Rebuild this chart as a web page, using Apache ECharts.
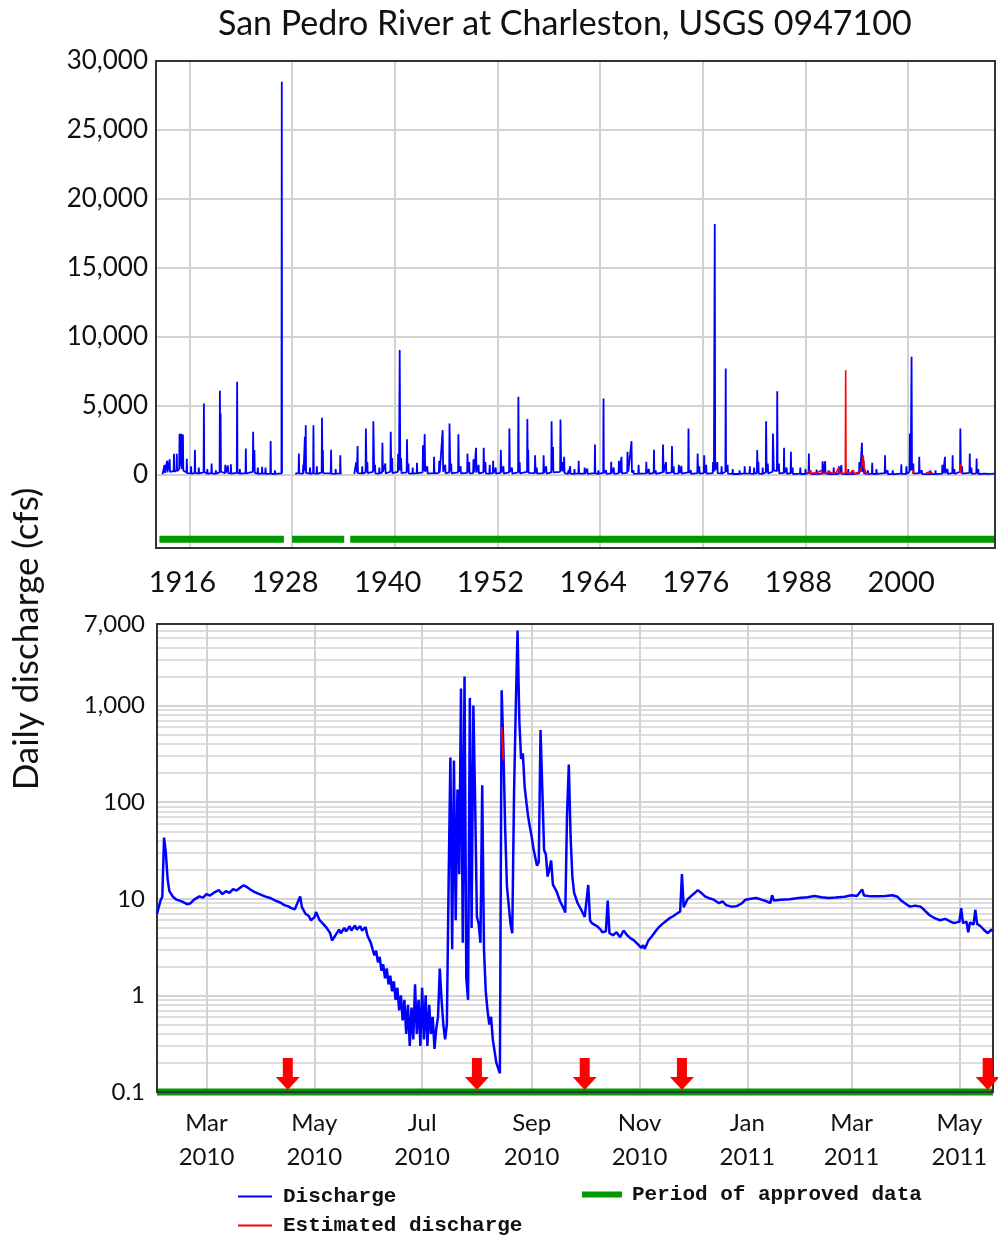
<!DOCTYPE html>
<html>
<head>
<meta charset="utf-8">
<title>San Pedro River at Charleston, USGS 0947100</title>
<script src="https://cdn.jsdelivr.net/npm/echarts@6.0.0/dist/echarts.min.js"></script>
<style>
  html, body { margin: 0; padding: 0; background: #fff; }
  #chart { width: 998px; height: 1239px; }
</style>
</head>
<body>
<div id="chart"></div>
<script>
// ---- top panel: full record (decimal year, daily discharge cfs) ----
const topYearTicks = [1916, 1928, 1940, 1952, 1964, 1976, 1988, 2000];
const topFlowTicks = [0, 5000, 10000, 15000, 20000, 25000, 30000];

const topDischarge = [
  [1912.86, 20], [1913.06, 150], [1913.1, 700], [1913.14, 120],
  [1913.36, 200], [1913.4, 1000], [1913.44, 150], [1913.66, 180], [1913.7, 1100], [1913.74, 200],
  [1914.16, 250], [1914.2, 1500], [1914.24, 200], [1914.49, 300], [1914.53, 1500], [1914.57, 250],
  [1914.81, 400], [1914.85, 2950], [1914.89, 600], [1915.01, 500], [1915.05, 2950], [1915.09, 400],
  [1915.21, 500], [1915.25, 2900], [1915.29, 300], [1915.66, 150], [1915.7, 1150], [1915.74, 100],
  [1916.16, 80], [1916.2, 600], [1916.24, 60], [1916.61, 100], [1916.65, 1770], [1916.69, 120],
  [1917.06, 60], [1917.1, 500], [1917.14, 80], [1917.66, 150], [1917.7, 5150], [1917.74, 200],
  [1918.06, 60], [1918.1, 400], [1918.14, 50], [1918.56, 100], [1918.6, 800], [1918.64, 90],
  [1919.06, 40], [1919.1, 300], [1919.14, 60], [1919.53, 150], [1919.57, 6070], [1919.61, 800],
  [1919.65, 4430], [1919.69, 200], [1920.16, 100], [1920.2, 700], [1920.24, 120],
  [1920.46, 90], [1920.5, 650], [1920.54, 100], [1920.81, 80], [1920.85, 750], [1920.89, 60],
  [1921.54, 120], [1921.58, 6730], [1921.62, 150], [1921.86, 50], [1921.9, 400], [1921.94, 60],
  [1922.56, 100], [1922.6, 1890], [1922.64, 80], [1923.41, 200], [1923.45, 3100], [1923.5, 300],
  [1923.6, 1770], [1923.64, 120], [1923.96, 60], [1924.0, 500], [1924.04, 50],
  [1924.46, 80], [1924.5, 560], [1924.54, 60], [1924.86, 90], [1924.9, 500], [1924.94, 40],
  [1925.46, 70], [1925.5, 2440], [1925.54, 60], [1925.96, 40], [1926.0, 300], [1926.04, 50],
  [1926.76, 80], [1926.8, 28500], [1926.83, 100],
  [1927.5, null],
  [1928.37, 40], [1928.76, 120], [1928.8, 1520], [1928.84, 90], [1929.26, 60], [1929.3, 700],
  [1929.34, 80], [1929.46, 150], [1929.5, 2730], [1929.55, 300], [1929.6, 3580], [1929.64, 120],
  [1930.06, 60], [1930.1, 500], [1930.14, 50], [1930.46, 100], [1930.5, 3580], [1930.54, 90],
  [1930.86, 60], [1930.9, 600], [1930.94, 50], [1931.46, 150], [1931.5, 4110], [1931.55, 300],
  [1931.6, 1770], [1931.64, 100], [1932.52, 80], [1932.56, 1800], [1932.6, 60],
  [1933.06, 50], [1933.1, 400], [1933.14, 60], [1933.6, 90], [1933.64, 1400], [1933.68, 80],
  [1933.8, 60],
  [1934.5, null],
  [1935.27, 50], [1935.46, 120], [1935.5, 900], [1935.58, 150], [1935.66, 2060], [1935.7, 100],
  [1936.16, 80], [1936.2, 600], [1936.24, 70], [1936.59, 150], [1936.63, 3340], [1936.7, 200],
  [1936.8, 900], [1936.84, 100], [1937.46, 200], [1937.5, 3870], [1937.6, 250], [1937.7, 700],
  [1937.74, 90], [1938.16, 60], [1938.2, 500], [1938.24, 80], [1938.52, 150], [1938.56, 2300],
  [1938.62, 200], [1938.9, 800], [1938.94, 80], [1939.49, 200], [1939.53, 3100], [1939.6, 250],
  [1939.7, 1200], [1939.74, 100], [1940.36, 200], [1940.4, 1500], [1940.5, 300], [1940.58, 9030],
  [1940.65, 300], [1940.75, 1200], [1940.79, 100], [1941.39, 150], [1941.43, 2560], [1941.5, 200],
  [1941.6, 800], [1941.64, 80], [1942.06, 60], [1942.1, 500], [1942.14, 70], [1942.56, 100],
  [1942.6, 850], [1942.64, 90], [1943.26, 150], [1943.3, 2130], [1943.4, 250], [1943.5, 2930],
  [1943.56, 200], [1943.8, 600], [1943.84, 80], [1944.56, 100], [1944.6, 1280], [1944.64, 90],
  [1945.16, 120], [1945.2, 1000], [1945.26, 150], [1945.6, 3220], [1945.66, 200], [1945.9, 700],
  [1945.94, 80], [1946.36, 150], [1946.4, 3700], [1946.5, 250], [1946.6, 800], [1946.64, 90],
  [1947.4, 150], [1947.44, 2930], [1947.5, 200], [1947.7, 600], [1947.74, 80],
  [1948.46, 120], [1948.5, 1520], [1948.56, 150], [1948.7, 900], [1948.74, 90],
  [1949.16, 100], [1949.2, 1100], [1949.3, 150], [1949.5, 1940], [1949.56, 150], [1949.8, 700],
  [1949.84, 80], [1950.36, 150], [1950.4, 1940], [1950.46, 200], [1950.6, 900], [1950.64, 90],
  [1951.06, 70], [1951.1, 700], [1951.14, 80], [1951.46, 100], [1951.5, 990], [1951.54, 80],
  [1951.8, 500], [1951.84, 60], [1952.36, 120], [1952.4, 1770], [1952.46, 150], [1952.7, 600],
  [1952.74, 70], [1953.36, 150], [1953.4, 3340], [1953.46, 200], [1953.7, 500], [1953.74, 60],
  [1954.41, 150], [1954.45, 5640], [1954.5, 200], [1954.6, 900], [1954.64, 90],
  [1955.46, 200], [1955.5, 4020], [1955.55, 300], [1955.6, 1800], [1955.64, 120],
  [1956.36, 100], [1956.4, 1400], [1956.46, 120], [1956.6, 500], [1956.64, 60],
  [1957.36, 100], [1957.4, 1400], [1957.46, 120], [1957.7, 600], [1957.74, 70],
  [1958.29, 150], [1958.33, 3870], [1958.4, 300], [1958.5, 2000], [1958.54, 150],
  [1959.33, 200], [1959.37, 4000], [1959.45, 250], [1959.6, 900], [1959.7, 200], [1959.8, 1280],
  [1959.84, 100], [1960.26, 50], [1960.3, 300], [1960.34, 60], [1960.46, 80], [1960.5, 600],
  [1960.54, 60], [1960.96, 50], [1961.0, 400], [1961.04, 60], [1961.46, 90], [1961.5, 990],
  [1961.54, 70], [1962.16, 60], [1962.2, 500], [1962.24, 50], [1962.46, 60], [1962.5, 435],
  [1962.54, 50], [1963.36, 100], [1963.4, 2180], [1963.44, 90], [1963.76, 40], [1963.8, 300],
  [1963.84, 50], [1964.36, 120], [1964.4, 5520], [1964.44, 100], [1964.66, 40], [1964.7, 300],
  [1964.74, 50], [1965.26, 80], [1965.3, 920], [1965.34, 70], [1965.56, 60], [1965.6, 500],
  [1965.64, 50], [1966.16, 90], [1966.2, 1000], [1966.3, 120], [1966.5, 1280], [1966.54, 90],
  [1967.16, 120], [1967.2, 1650], [1967.3, 200], [1967.67, 2420], [1967.72, 150], [1967.9, 300],
  [1967.94, 50], [1968.46, 70], [1968.5, 700], [1968.54, 60], [1969.36, 80], [1969.4, 920],
  [1969.44, 70], [1969.66, 50], [1969.7, 400], [1969.74, 40], [1970.26, 120], [1970.3, 1800],
  [1970.34, 100], [1970.46, 40], [1970.5, 300], [1970.54, 50], [1971.31, 150], [1971.35, 2180],
  [1971.42, 150], [1971.7, 900], [1971.74, 80], [1972.36, 150], [1972.4, 2060], [1972.46, 120],
  [1972.6, 600], [1972.64, 60], [1973.16, 80], [1973.2, 700], [1973.3, 100], [1973.5, 630],
  [1973.54, 60], [1974.29, 150], [1974.33, 3340], [1974.38, 120], [1974.6, 300], [1974.64, 40],
  [1975.36, 100], [1975.4, 1520], [1975.46, 100], [1975.6, 600], [1975.64, 60],
  [1976.12, 100], [1976.16, 1400], [1976.22, 120], [1976.4, 700], [1976.44, 60],
  [1977.16, 100], [1977.2, 900], [1977.3, 200], [1977.4, 18170], [1977.45, 300], [1977.7, 900],
  [1977.74, 100], [1978.16, 80], [1978.2, 600], [1978.24, 60], [1978.64, 200], [1978.68, 7700],
  [1978.72, 200], [1978.9, 700], [1978.94, 70], [1979.46, 50], [1979.5, 400], [1979.54, 40],
  [1980.26, 40], [1980.3, 300], [1980.34, 50], [1980.86, 80], [1980.9, 600], [1980.94, 60],
  [1981.46, 90], [1981.5, 600], [1981.54, 60], [1981.96, 50], [1982.0, 500], [1982.04, 60],
  [1982.32, 100], [1982.36, 1770], [1982.42, 120], [1982.5, 920], [1982.54, 70],
  [1982.96, 50], [1983.0, 500], [1983.04, 60], [1983.36, 150], [1983.4, 3870], [1983.46, 150],
  [1983.6, 800], [1983.64, 80], [1984.16, 200], [1984.2, 2980], [1984.3, 300], [1984.66, 250],
  [1984.7, 6050], [1984.75, 250], [1984.9, 800], [1984.94, 80], [1985.46, 120], [1985.5, 1940],
  [1985.54, 100], [1985.76, 50], [1985.8, 500], [1985.84, 50], [1986.26, 100], [1986.3, 1650],
  [1986.34, 90], [1986.46, 50], [1986.5, 500], [1986.54, 40], [1987.36, 60], [1987.4, 510],
  [1987.44, 40], [1987.96, 40], [1988.0, 400], [1988.04, 40], [1988.36, 100], [1988.4, 1520],
  [1988.44, 80], [1988.56, 30], [1988.6, 300], [1988.64, 40], [1989.26, 40], [1989.3, 360],
  [1989.34, 30], [1989.96, 60], [1990.0, 970], [1990.1, 80], [1990.3, 970], [1990.34, 60],
  [1990.66, 40], [1990.7, 300], [1990.74, 40], [1991.26, 40], [1991.3, 500], [1991.34, 40],
  [1991.86, 50], [1991.9, 600], [1991.94, 40], [1992.16, 60], [1992.2, 680], [1992.24, 50],
  [1992.96, 40], [1993.0, 400], [1993.04, 40], [1993.46, 30], [1993.5, 300], [1993.54, 30],
  [1994.26, 80], [1994.3, 900], [1994.4, 150], [1994.6, 2300], [1994.65, 200], [1994.8, 1000],
  [1994.84, 80], [1995.26, 40], [1995.3, 300], [1995.34, 40], [1995.76, 60], [1995.8, 850],
  [1995.84, 50], [1996.26, 40], [1996.3, 400], [1996.34, 40], [1997.26, 100], [1997.3, 1400],
  [1997.34, 80], [1997.56, 30], [1997.6, 300], [1997.64, 30], [1998.16, 30], [1998.2, 300],
  [1998.24, 30], [1999.16, 60], [1999.2, 750], [1999.24, 50], [1999.76, 50], [1999.8, 600],
  [1999.84, 50], [2000.16, 200], [2000.2, 2980], [2000.3, 300], [2000.4, 8540], [2000.45, 300],
  [2000.6, 800], [2000.64, 60], [2001.26, 100], [2001.3, 1280], [2001.34, 80], [2001.56, 30],
  [2001.6, 300], [2001.64, 30], [2002.56, 30], [2002.6, 300], [2002.64, 30], [2003.16, 30],
  [2003.2, 300], [2003.24, 30], [2003.96, 60], [2004.0, 700], [2004.1, 80], [2004.3, 1280],
  [2004.34, 80], [2004.56, 40], [2004.6, 400], [2004.64, 40], [2005.16, 100], [2005.2, 1400],
  [2005.24, 80], [2005.36, 40], [2005.4, 400], [2005.44, 40], [2006.06, 200], [2006.1, 3340],
  [2006.16, 200], [2006.3, 600], [2006.34, 60], [2007.16, 120], [2007.2, 1520], [2007.24, 100],
  [2007.36, 50], [2007.4, 500], [2007.44, 50], [2007.96, 80], [2008.0, 1160], [2008.04, 80],
  [2008.16, 40], [2008.2, 400], [2008.24, 40], [2009.0, 60], [2009.5, 50], [2010.1, 60]
];

const topEstimated = [
  [1988.2, 80], [1988.5, 300], [1988.6, 60], [1989.0, 120], [1989.3, 90], [1989.8, 300],
  [1989.9, 60], [1990.5, 100], [1990.8, 200], [1991.2, 80], [1991.6, 150], [1991.9, 500],
  [1992.0, 80], [1992.66, 100], [1992.7, 7570], [1992.74, 150], [1993.2, 80], [1993.6, 300],
  [1993.7, 60], [1994.3, 200], [1994.6, 600], [1994.75, 1400], [1994.85, 500], [1995.1, 100],
  [1995.5, 80],
  [1996.0, null],
  [2000.5, 60], [2000.6, 300], [2000.7, 60],
  [2001.0, null],
  [2002.0, 60], [2002.5, 200], [2002.9, 60],
  [2004.0, null],
  [2006.05, 100], [2006.1, 750], [2006.15, 80]
];

// approved-data periods, start and end year
const topApproved = [[1912.5, 1927.05], [1928.0, 1934.1], [1934.8, 2010.15]];

// ---- bottom panel: Feb 2010 - May 2011 ----
const monthNames = ['Jan', 'Feb', 'Mar', 'Apr', 'May', 'Jun', 'Jul', 'Aug', 'Sep', 'Oct', 'Nov', 'Dec'];
const bottomDateTicks = ['2010-03-01', '2010-05-01', '2010-07-01', '2010-09-01', '2010-11-01',
  '2011-01-01', '2011-03-01', '2011-05-01'];
const bottomDateRange = ['2010-02-01', '2011-05-20'];
const bottomFlowTicks = [0.1, 1, 10, 100, 1000, 7000];
const bottomMinorFlows = [0.2, 0.3, 0.4, 0.5, 0.6, 0.7, 0.8, 0.9, 2, 3, 4, 5, 6, 7, 8, 9,
  20, 30, 40, 50, 60, 70, 80, 90, 200, 300, 400, 500, 600, 700, 800, 900,
  2000, 3000, 4000, 5000, 6000];

const bottomDischarge = [
  ['2010-02-01', 7.0], ['2010-02-02', 8.2], ['2010-02-03', 9.6], ['2010-02-04', 10.5],
  ['2010-02-05', 43], ['2010-02-06', 30], ['2010-02-07', 16], ['2010-02-08', 12],
  ['2010-02-10', 10.5], ['2010-02-12', 9.8], ['2010-02-15', 9.4], ['2010-02-18', 8.8],
  ['2010-02-20', 9.0], ['2010-02-22', 9.8], ['2010-02-25', 10.6], ['2010-02-27', 10.3],
  ['2010-03-01', 11.2], ['2010-03-03', 10.8], ['2010-03-05', 11.5], ['2010-03-08', 12.3],
  ['2010-03-10', 11.2], ['2010-03-12', 12.0], ['2010-03-14', 11.5], ['2010-03-16', 12.6],
  ['2010-03-18', 12.2], ['2010-03-20', 13.0], ['2010-03-22', 13.8], ['2010-03-24', 13.2],
  ['2010-03-26', 12.4], ['2010-03-28', 11.8], ['2010-03-31', 11.2], ['2010-04-03', 10.6],
  ['2010-04-06', 10.2], ['2010-04-09', 9.6], ['2010-04-12', 9.1], ['2010-04-14', 8.6],
  ['2010-04-16', 8.4], ['2010-04-18', 8.0], ['2010-04-20', 7.8], ['2010-04-21', 7.5],
  ['2010-04-23', 10.6], ['2010-04-24', 8.2], ['2010-04-26', 7.0], ['2010-04-28', 6.6],
  ['2010-04-29', 6.0], ['2010-05-01', 6.4], ['2010-05-02', 7.3], ['2010-05-04', 6.0],
  ['2010-05-06', 5.5], ['2010-05-08', 5.0], ['2010-05-10', 4.4], ['2010-05-11', 3.7],
  ['2010-05-13', 4.2], ['2010-05-15', 4.8], ['2010-05-16', 4.4], ['2010-05-18', 5.0],
  ['2010-05-19', 4.6], ['2010-05-21', 5.2], ['2010-05-22', 4.7], ['2010-05-24', 5.3],
  ['2010-05-25', 4.8], ['2010-05-27', 5.2], ['2010-05-28', 4.7], ['2010-05-30', 5.1],
  ['2010-05-31', 4.2], ['2010-06-02', 3.5], ['2010-06-03', 3.0], ['2010-06-04', 2.6],
  ['2010-06-05', 2.9], ['2010-06-06', 2.2], ['2010-06-07', 2.5], ['2010-06-08', 1.8],
  ['2010-06-09', 2.1], ['2010-06-10', 1.5], ['2010-06-11', 1.9], ['2010-06-12', 1.3],
  ['2010-06-13', 1.6], ['2010-06-14', 1.1], ['2010-06-15', 1.4], ['2010-06-16', 0.9],
  ['2010-06-17', 1.2], ['2010-06-18', 0.7], ['2010-06-19', 1.0], ['2010-06-20', 0.55],
  ['2010-06-21', 0.9], ['2010-06-22', 0.4], ['2010-06-23', 0.8], ['2010-06-24', 0.3],
  ['2010-06-25', 0.75], ['2010-06-26', 0.35], ['2010-06-27', 1.3], ['2010-06-28', 0.4],
  ['2010-06-29', 0.9], ['2010-06-30', 0.3], ['2010-07-01', 1.2], ['2010-07-02', 0.35],
  ['2010-07-03', 1.0], ['2010-07-04', 0.3], ['2010-07-05', 0.8], ['2010-07-06', 0.4],
  ['2010-07-07', 0.6], ['2010-07-08', 0.28], ['2010-07-09', 0.45], ['2010-07-10', 0.6],
  ['2010-07-11', 1.9], ['2010-07-12', 0.9], ['2010-07-13', 0.5], ['2010-07-14', 0.35],
  ['2010-07-15', 0.5], ['2010-07-16', 15], ['2010-07-17', 290], ['2010-07-18', 3.0],
  ['2010-07-19', 270], ['2010-07-20', 6], ['2010-07-21', 135], ['2010-07-22', 18],
  ['2010-07-23', 1500], ['2010-07-24', 3.5], ['2010-07-25', 2000], ['2010-07-26', 1.5],
  ['2010-07-27', 0.9], ['2010-07-28', 1200], ['2010-07-29', 5], ['2010-07-30', 1000],
  ['2010-07-31', 100], ['2010-08-01', 6.5], ['2010-08-02', 5.5], ['2010-08-03', 3.5],
  ['2010-08-04', 150], ['2010-08-05', 3], ['2010-08-06', 1.1], ['2010-08-07', 0.7],
  ['2010-08-08', 0.5], ['2010-08-09', 0.6], ['2010-08-10', 0.35], ['2010-08-12', 0.2],
  ['2010-08-14', 0.156], ['2010-08-15', 1440], ['2010-08-16', 350], ['2010-08-17', 52],
  ['2010-08-18', 13.4], ['2010-08-20', 5.5], ['2010-08-21', 4.4], ['2010-08-22', 120],
  ['2010-08-23', 980], ['2010-08-24', 6000], ['2010-08-25', 700], ['2010-08-26', 280],
  ['2010-08-27', 320], ['2010-08-28', 145], ['2010-08-29', 100], ['2010-08-30', 71],
  ['2010-08-31', 55], ['2010-09-01', 44], ['2010-09-02', 33], ['2010-09-03', 27],
  ['2010-09-04', 22], ['2010-09-05', 24], ['2010-09-06', 560], ['2010-09-07', 137],
  ['2010-09-08', 32], ['2010-09-09', 29], ['2010-09-10', 17], ['2010-09-11', 20],
  ['2010-09-12', 25], ['2010-09-13', 14], ['2010-09-15', 12], ['2010-09-17', 9.5],
  ['2010-09-19', 8.0], ['2010-09-20', 7.2], ['2010-09-21', 75], ['2010-09-22', 245],
  ['2010-09-23', 44], ['2010-09-24', 17], ['2010-09-25', 11.5], ['2010-09-27', 9.0],
  ['2010-09-29', 7.7], ['2010-10-01', 6.5], ['2010-10-02', 6.8], ['2010-10-03', 13.9],
  ['2010-10-04', 6.0], ['2010-10-05', 5.6], ['2010-10-08', 5.2], ['2010-10-10', 4.8],
  ['2010-10-11', 4.5], ['2010-10-13', 4.6], ['2010-10-14', 9.6], ['2010-10-15', 4.4],
  ['2010-10-17', 4.2], ['2010-10-19', 4.5], ['2010-10-21', 4.0], ['2010-10-23', 4.7],
  ['2010-10-25', 4.2], ['2010-10-27', 3.9], ['2010-10-29', 3.7], ['2010-10-31', 3.4],
  ['2010-11-02', 3.1], ['2010-11-03', 3.3], ['2010-11-04', 3.05], ['2010-11-06', 3.7],
  ['2010-11-08', 4.1], ['2010-11-10', 4.6], ['2010-11-12', 5.1], ['2010-11-14', 5.5],
  ['2010-11-16', 5.9], ['2010-11-18', 6.3], ['2010-11-20', 6.6], ['2010-11-22', 7.0],
  ['2010-11-24', 7.4], ['2010-11-25', 18], ['2010-11-26', 8.2], ['2010-11-28', 9.8],
  ['2010-11-30', 10.6], ['2010-12-02', 11.4], ['2010-12-04', 12.3], ['2010-12-06', 11.5],
  ['2010-12-08', 10.6], ['2010-12-10', 10.2], ['2010-12-13', 9.8], ['2010-12-16', 9.0],
  ['2010-12-18', 9.4], ['2010-12-20', 8.6], ['2010-12-23', 8.3], ['2010-12-26', 8.4],
  ['2010-12-29', 9.0], ['2010-12-31', 9.8], ['2011-01-03', 10.0], ['2011-01-06', 10.2],
  ['2011-01-09', 9.8], ['2011-01-12', 9.4], ['2011-01-14', 9.0], ['2011-01-15', 10.9],
  ['2011-01-16', 9.6], ['2011-01-20', 9.8], ['2011-01-25', 9.9], ['2011-01-30', 10.2],
  ['2011-02-04', 10.4], ['2011-02-08', 10.7], ['2011-02-12', 10.4], ['2011-02-16', 10.2],
  ['2011-02-20', 10.3], ['2011-02-25', 10.5], ['2011-03-01', 10.9], ['2011-03-04', 10.7],
  ['2011-03-07', 12.5], ['2011-03-08', 10.8], ['2011-03-12', 10.6], ['2011-03-16', 10.6],
  ['2011-03-20', 10.7], ['2011-03-24', 10.9], ['2011-03-27', 10.5], ['2011-03-29', 9.6],
  ['2011-04-01', 8.8], ['2011-04-03', 8.3], ['2011-04-06', 8.5], ['2011-04-09', 8.3],
  ['2011-04-11', 7.7], ['2011-04-14', 6.8], ['2011-04-17', 6.3], ['2011-04-20', 6.0],
  ['2011-04-23', 6.2], ['2011-04-26', 5.8], ['2011-04-28', 5.6], ['2011-05-01', 5.8],
  ['2011-05-02', 8.0], ['2011-05-03', 5.6], ['2011-05-05', 5.8], ['2011-05-06', 4.5],
  ['2011-05-07', 5.7], ['2011-05-09', 5.4], ['2011-05-10', 7.7], ['2011-05-11', 5.5],
  ['2011-05-13', 5.2], ['2011-05-15', 4.75], ['2011-05-17', 4.4], ['2011-05-19', 4.8],
  ['2011-05-20', 4.6]
];

const bottomEstimated = [['2010-08-15', 600], ['2010-08-16', 270]];

const bottomApproved = [['2010-02-01', '2011-05-20']];

// dates of the red arrows (field measurements)
const measurementDates = ['2010-04-16', '2010-08-01', '2010-10-01', '2010-11-25', '2011-05-17'];

// ---- styling ----
const FONT = 'Lato, "Open Sans", sans-serif';
const MONO = '"Liberation Mono", "DejaVu Sans Mono", monospace';
const GRID_COLOR = '#d3d3d3';
const BLUE = '#0000ff';
const RED = '#ff0000';
const GREEN = '#009a00';
const TOP_BAND_LEVEL = -4700;   // where the approved-data band sits in the top panel
const BOTTOM_BAND_LEVEL = 0.1;  // bottom edge of the log panel
const ARROW = 'path://M7,0 L17,0 L17,19 L24,19 L12,32 L0,19 L7,19 Z';

function toTime(s) {
  return echarts.time.parse(s).getTime();
}

function withTime(pairs) {
  return pairs.map(function (p) { return [toTime(p[0]), p[1]]; });
}

function bandData(periods, level, conv) {
  const out = [];
  periods.forEach(function (p, i) {
    const a = conv ? conv(p[0]) : p[0];
    const b = conv ? conv(p[1]) : p[1];
    if (i > 0) out.push([a, null]);
    out.push([a, level], [b, level]);
  });
  return out;
}

function legendItem(name, left, top, w, h, gap) {
  return {
    data: [name],
    left: left,
    top: top,
    padding: 0,
    icon: 'rect',
    itemWidth: w,
    itemHeight: h,
    selectedMode: false,
    textStyle: {
      fontFamily: MONO, fontWeight: 'bold', fontSize: 21, lineHeight: 20,
      color: '#111', padding: [0, 0, 0, gap]
    }
  };
}

const chart = echarts.init(document.getElementById('chart'), null, { renderer: 'canvas' });

const option = {
  animation: false,
  backgroundColor: '#fff',
  title: {
    text: 'San Pedro River at Charleston, USGS 0947100',
    left: 213,
    top: 2,
    textStyle: { fontFamily: FONT, fontSize: 34, fontWeight: 'normal', color: '#111' }
  },
  legend: [
    legendItem('Discharge', 238, 1186, 34, 2, 6),
    legendItem('Estimated discharge', 238, 1215, 34, 2, 6),
    legendItem('Period of approved data', 582, 1184, 40, 6, 5)
  ],
  graphic: [
    {
      type: 'text',
      x: 27,
      y: 639,
      rotation: Math.PI / 2,
      style: {
        text: 'Daily discharge (cfs)',
        font: '35px ' + FONT,
        fill: '#111',
        textAlign: 'center',
        textVerticalAlign: 'middle'
      }
    }
  ],
  grid: [
    { left: 156, top: 61, right: 3, height: 487, show: true, borderColor: '#333', borderWidth: 2, backgroundColor: 'transparent', z: 3 },
    { left: 157, top: 624, right: 5, height: 468, show: true, borderColor: '#333', borderWidth: 2, backgroundColor: 'transparent', z: 3 }
  ],
  xAxis: [
    {
      type: 'value',
      gridIndex: 0,
      min: 1912.1,
      max: 2010.15,
      axisLine: { show: false },
      axisTick: { show: false, customValues: topYearTicks },
      axisLabel: {
        customValues: topYearTicks,
        formatter: function (v) { return String(v); },
        margin: 18,
        padding: [0, 14, 0, 0],
        fontFamily: FONT, fontSize: 29, color: '#111', lineHeight: 34
      },
      splitLine: { show: true, lineStyle: { color: GRID_COLOR, width: 2 } }
    },
    {
      type: 'value',
      gridIndex: 1,
      min: toTime(bottomDateRange[0]),
      max: toTime(bottomDateRange[1]),
      axisLine: { show: false },
      axisTick: { show: false, customValues: bottomDateTicks.map(toTime) },
      axisLabel: {
        customValues: bottomDateTicks.map(toTime),
        formatter: function (v) {
          const d = new Date(v);
          return monthNames[d.getMonth()] + '\n' + d.getFullYear();
        },
        margin: 14,
        fontFamily: FONT, fontSize: 24, color: '#111', lineHeight: 34
      },
      splitLine: { show: true, lineStyle: { color: GRID_COLOR, width: 2 } }
    }
  ],
  yAxis: [
    {
      type: 'value',
      gridIndex: 0,
      min: -5330,
      max: 30000,
      axisLine: { show: false },
      axisTick: { show: false, customValues: topFlowTicks },
      axisLabel: {
        customValues: topFlowTicks,
        formatter: function (v) { return v.toLocaleString('en-US'); },
        margin: 8,
        padding: [0, 0, 12, 0],
        fontFamily: FONT, fontSize: 26, color: '#111'
      },
      splitLine: { show: true, lineStyle: { color: GRID_COLOR, width: 2 } }
    },
    {
      type: 'log',
      logBase: 10,
      gridIndex: 1,
      min: 0.1,
      max: 7000,
      axisLine: { show: false },
      axisTick: { show: false, customValues: bottomFlowTicks },
      axisLabel: {
        customValues: bottomFlowTicks,
        formatter: function (v) { return v.toLocaleString('en-US'); },
        margin: 12,
        padding: [0, 0, 10, 0],
        fontFamily: FONT, fontSize: 24, color: '#111'
      },
      splitLine: { show: true, lineStyle: { color: GRID_COLOR, width: 2 } }
    },
    {
      // minor log grid lines only
      type: 'log',
      logBase: 10,
      gridIndex: 1,
      min: 0.1,
      max: 7000,
      axisLine: { show: false },
      axisTick: { show: false, customValues: bottomMinorFlows },
      axisLabel: { show: false },
      splitLine: { show: true, lineStyle: { color: GRID_COLOR, width: 1.5 } }
    }
  ],
  series: [
    {
      name: 'Period of approved data',
      type: 'line',
      xAxisIndex: 0, yAxisIndex: 0,
      data: bandData(topApproved, TOP_BAND_LEVEL),
      showSymbol: false,
      color: GREEN,
      lineStyle: { color: GREEN, width: 7, cap: 'butt' },
      z: 2
    },
    {
      name: 'Discharge',
      type: 'line',
      xAxisIndex: 0, yAxisIndex: 0,
      data: topDischarge,
      showSymbol: false,
      color: BLUE,
      lineStyle: { color: BLUE, width: 1.8 },
      z: 3
    },
    {
      name: 'Estimated discharge',
      type: 'line',
      xAxisIndex: 0, yAxisIndex: 0,
      data: topEstimated,
      showSymbol: false,
      color: RED,
      lineStyle: { color: RED, width: 1.6 },
      z: 4
    },
    {
      name: 'Period of approved data',
      type: 'line',
      xAxisIndex: 1, yAxisIndex: 1,
      data: bandData(bottomApproved, BOTTOM_BAND_LEVEL, toTime),
      showSymbol: false,
      clip: false,
      color: GREEN,
      lineStyle: { color: GREEN, width: 7, cap: 'butt' },
      z: 2
    },
    {
      name: 'Discharge',
      type: 'line',
      xAxisIndex: 1, yAxisIndex: 1,
      data: withTime(bottomDischarge),
      showSymbol: false,
      color: BLUE,
      lineStyle: { color: BLUE, width: 2.5 },
      z: 3
    },
    {
      name: 'Estimated discharge',
      type: 'line',
      xAxisIndex: 1, yAxisIndex: 1,
      data: withTime(bottomEstimated),
      showSymbol: false,
      color: RED,
      lineStyle: { color: RED, width: 2 },
      z: 4
    },
    {
      name: 'Field measurement',
      type: 'scatter',
      xAxisIndex: 1, yAxisIndex: 1,
      data: measurementDates.map(function (d) { return [toTime(d), BOTTOM_BAND_LEVEL]; }),
      symbol: ARROW,
      symbolSize: [24, 32],
      symbolOffset: [0, -18],
      clip: false,
      itemStyle: { color: RED, opacity: 1 },
      z: 5
    }
  ]
};

chart.setOption(option);
</script>
</body>
</html>
